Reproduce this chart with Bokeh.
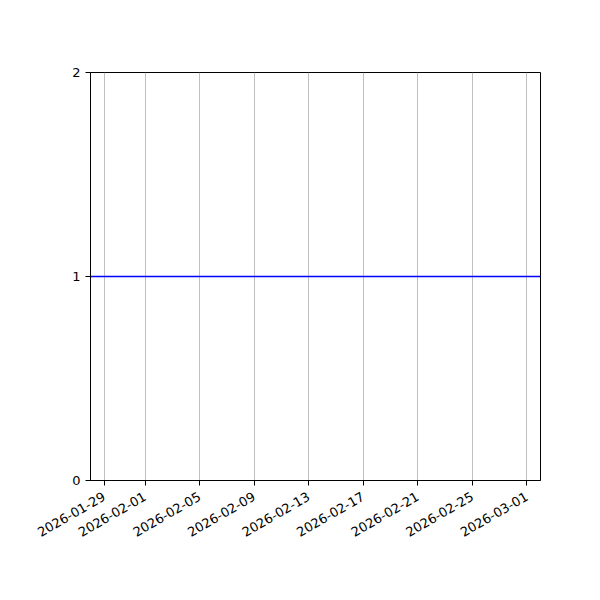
from datetime import datetime
import math
from bokeh.plotting import figure
from bokeh.models import Range1d, FixedTicker, DatetimeTickFormatter
from bokeh.embed import file_html
from bokeh.resources import INLINE

# data
dates = [datetime(2026, 1, 28), datetime(2026, 3, 2)]
values = [1, 1]
x_tick_dates = ["2026-01-29", "2026-02-01", "2026-02-05", "2026-02-09", "2026-02-13",
                "2026-02-17", "2026-02-21", "2026-02-25", "2026-03-01"]
y_ticks = [0, 1, 2]

def to_ms(s):
    d = datetime.strptime(s, "%Y-%m-%d")
    return (d - datetime(1970, 1, 1)).total_seconds() * 1000.0

W, H = 584, 584
p = figure(width=W, height=H, x_axis_type="datetime", output_backend="svg",
           toolbar_location=None,
           x_range=Range1d(start=dates[0], end=dates[-1]),
           y_range=Range1d(start=0, end=2),
           min_border_left=90, min_border_right=44, min_border_top=72, min_border_bottom=104)
p.background_fill_color = "white"
p.border_fill_color = "white"
p.outline_line_color = "black"
p.outline_line_width = 1

p.line(dates, values, line_color="#0000ff", line_width=1.6)

fmt = "%Y-%m-%d"
p.xaxis.ticker = FixedTicker(ticks=[to_ms(s) for s in x_tick_dates])
p.xaxis.formatter = DatetimeTickFormatter(milliseconds=fmt, seconds=fmt, minsec=fmt, minutes=fmt,
                                          hourmin=fmt, hours=fmt, days=fmt, months=fmt, years=fmt)
p.xaxis.major_label_orientation = math.pi / 6
p.yaxis.ticker = FixedTicker(ticks=y_ticks)

for ax in (p.xaxis, p.yaxis):
    ax.axis_line_color = "black"
    ax.axis_line_width = 1
    ax.major_tick_line_color = "black"
    ax.major_tick_out = 5
    ax.major_tick_in = 0
    ax.minor_tick_line_color = None
    ax.major_label_text_font = "DejaVu Sans"
    ax.major_label_text_font_size = "13px"
    ax.major_label_text_color = "black"
    ax.major_label_standoff = 5

p.xaxis.major_label_standoff = 10

p.ygrid.grid_line_color = None
p.xgrid.grid_line_color = "#b0b0b0"
p.xgrid.grid_line_width = 0.8

open("out.html", "w").write(file_html(p, INLINE))
